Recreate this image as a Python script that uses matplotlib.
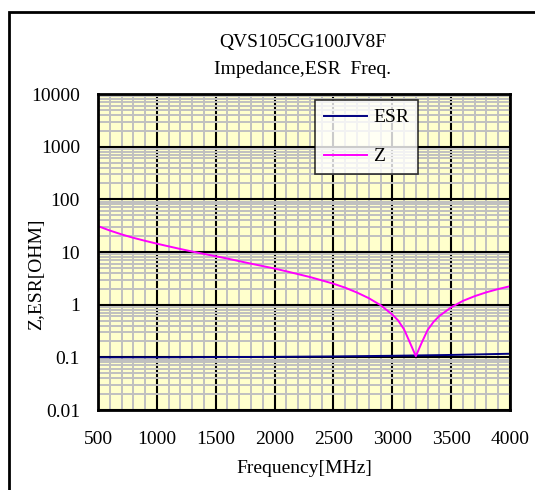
import matplotlib.pyplot as plt
from matplotlib.patches import Rectangle
from matplotlib.ticker import FixedLocator, LogLocator, NullFormatter, MultipleLocator

plt.rcParams['font.family'] = ['Liberation Serif', 'DejaVu Serif']

# Data
freq_mhz = [500, 600, 700, 800, 900, 1000, 1100, 1200, 1300, 1400, 1500,
            1600, 1700, 1800, 1900, 2000, 2100, 2200, 2300, 2400, 2500,
            2600, 2700, 2800, 2900, 3000, 3050, 3100, 3150, 3200, 3250,
            3300, 3350, 3400, 3500, 3600, 3700, 3800, 3900, 4000]
z_ohm = [31.0, 25.6, 21.6, 18.6, 16.3, 14.4, 12.8, 11.4, 10.2, 9.2, 8.3,
         7.5, 6.7, 6.0, 5.4, 4.85, 4.3, 3.8, 3.35, 2.9, 2.5,
         2.1, 1.7, 1.33, 0.98, 0.65, 0.5, 0.34, 0.19, 0.105, 0.19,
         0.33, 0.47, 0.61, 0.89, 1.18, 1.45, 1.72, 1.98, 2.24]
esr_freq = [500, 1000, 1500, 2000, 2500, 3000, 3500, 4000]
esr_ohm = [0.100, 0.100, 0.101, 0.102, 0.104, 0.107, 0.111, 0.117]

yticks = [0.01, 0.1, 1, 10, 100, 1000, 10000]
ytick_labels = ['0.01', '0.1', '1', '10', '100', '1000', '10000']
xticks = [500, 1000, 1500, 2000, 2500, 3000, 3500, 4000]

FS = 14

fig = plt.figure(figsize=(5.35, 4.90), dpi=100)
ax = fig.add_axes([98 / 535, 1 - 410 / 490, 412 / 535, 316 / 490])
ax.set_facecolor('#FFFFCC')

ax.plot(esr_freq, esr_ohm, color='#000080', lw=1.4, label='ESR', zorder=4)
ax.plot(freq_mhz, z_ohm, color='#FF00FF', lw=1.4, label='Z', zorder=5)

ax.set_yscale('log')
ax.set_ylim(0.01, 10000)
ax.set_xlim(500, 4000)
ax.yaxis.set_major_locator(FixedLocator(yticks))
ax.set_yticklabels(ytick_labels)
ax.yaxis.set_minor_locator(LogLocator(base=10, subs=range(2, 10), numticks=20))
ax.yaxis.set_minor_formatter(NullFormatter())
ax.set_xticks(xticks)
ax.xaxis.set_minor_locator(MultipleLocator(100))

ax.grid(which='minor', color='#C0C0C0', lw=1.4, zorder=1)
ax.grid(which='major', color='black', lw=1.5, zorder=2)
ax.set_axisbelow(True)
ax.tick_params(which='both', length=0)
ax.tick_params(axis='y', labelsize=FS, pad=13)
ax.tick_params(axis='x', labelsize=FS, pad=15)
for sp in ax.spines.values():
    sp.set_linewidth(2)
    sp.set_zorder(6)

ax.set_xlabel('Frequency[MHz]', fontsize=FS, labelpad=9)
ax.set_ylabel('Z,ESR[OHM]', fontsize=FS)
ax.yaxis.set_label_coords(-0.128, 0.43)

fig.text(303 / 535, 1 - 43 / 490, 'QVS105CG100JV8F', ha='center', va='center', fontsize=FS)
fig.text(303 / 535, 1 - 70 / 490, 'Impedance,ESR  Freq.', ha='center', va='center', fontsize=FS)

leg = ax.legend(loc='upper left', bbox_to_anchor=(315 / 535, 1 - 100 / 490),
                bbox_transform=fig.transFigure, fontsize=FS, frameon=True,
                fancybox=False, shadow=False, handlelength=2.2,
                labelspacing=1.1, borderpad=0.45, handletextpad=0.35,
                borderaxespad=0)
leg.get_frame().set_edgecolor('black')
leg.get_frame().set_linewidth(1.2)
leg.set_zorder(10)

# outer chart frame
fig.patches.append(Rectangle((9 / 535, -0.1), 1.2, 1 - 12 / 490 + 0.1,
                             transform=fig.transFigure, fill=False,
                             edgecolor='black', lw=2))

fig.savefig('out.png', dpi=100)
